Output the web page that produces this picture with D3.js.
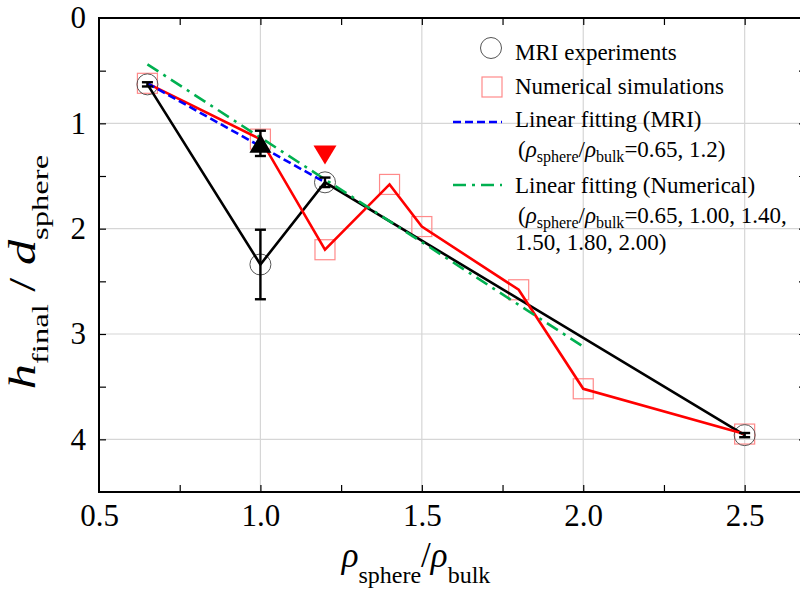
<!DOCTYPE html>
<html>
<head>
<meta charset="utf-8">
<script src="https://cdn.jsdelivr.net/npm/d3@7"></script>
<style>
  html, body { margin: 0; padding: 0; background: #fff; overflow: hidden; }
  svg { display: block; }
  text { font-family: "Liberation Serif", "Times New Roman", serif; fill: #000; }
</style>
</head>
<body>
<svg id="chart" width="800" height="593"></svg>
<script>
// ---- data ----
// MRI experiments: density ratio, final depth (in sphere diameters), error
const mriRatio  = [0.65, 1.0, 1.2, 2.5];
const mriHeight = [0.63, 2.34, 1.56, 3.96];
const mriError  = [0.02, 0.33, 0.045, 0.02];

// Numerical simulations
const simRatio  = [0.65, 1.0, 1.2, 1.4, 1.5, 1.8, 2.0, 2.5];
const simHeight = [0.62, 1.15, 2.2, 1.58, 1.98, 2.58, 3.52, 3.95];

// Linear fits (end points)
const fitMriRatio  = [0.65, 1.2];
const fitMriHeight = [0.62, 1.56];
const fitSimRatio  = [0.65, 2.0];
const fitSimHeight = [0.44, 3.12];

// Extra single markers
const upRatio    = [1.0];
const upHeight   = [1.19];
const upError    = [0.12];
const downRatio  = [1.2];
const downHeight = [1.3];

// Axis ticks
const xTicks      = [0.5, 1.0, 1.5, 2.0, 2.5];
const xMinorTicks = [0.75, 1.0, 1.25, 1.5, 1.75, 2.0, 2.25, 2.5];
const yTicks      = [0, 1, 2, 3, 4];
const yMinorTicks = [0.5, 1, 1.5, 2, 2.5, 3, 3.5, 4];

// ---- layout ----
const svg = d3.select('#chart');
const x = d3.scaleLinear().domain([0.5, 2.69]).range([99, 806]);
const y = d3.scaleLinear().domain([0, 4.5]).range([18, 492]);
const X0 = x.range()[0], X1 = x.range()[1], Y0 = y.range()[0], Y1 = y.range()[1];

const zip = (a, b) => a.map((d, i) => [d, b[i]]);
const line = d3.line().x(d => x(d[0])).y(d => y(d[1]));

// grid
const grid = svg.append('g').attr('stroke', '#d6d6d6').attr('stroke-width', 1.2);
grid.selectAll('.gx').data(xTicks.filter(d => d > 0.5)).join('line')
  .attr('x1', d => x(d)).attr('x2', d => x(d)).attr('y1', Y0).attr('y2', Y1);
grid.selectAll('.gy').data(yTicks.filter(d => d > 0)).join('line')
  .attr('x1', X0).attr('x2', X1).attr('y1', d => y(d)).attr('y2', d => y(d));

// inward tick marks on all four sides
function ticks(axis, transform) {
  svg.append('g').attr('transform', transform).call(axis)
    .call(g => g.select('.domain').remove())
    .selectAll('line').attr('stroke', '#000').attr('stroke-width', 1.2);
}
ticks(d3.axisBottom(x).tickValues(xMinorTicks).tickSize(-7).tickFormat(''), `translate(0,${Y1})`);
ticks(d3.axisTop(x).tickValues(xMinorTicks).tickSize(-7).tickFormat(''), `translate(0,${Y0})`);
ticks(d3.axisLeft(y).tickValues(yMinorTicks).tickSize(-7).tickFormat(''), `translate(${X0},0)`);
ticks(d3.axisRight(y).tickValues(yMinorTicks).tickSize(-7).tickFormat(''), `translate(${X1},0)`);

// tick labels
svg.append('g').attr('transform', `translate(0,${Y1})`)
  .call(d3.axisBottom(x).tickValues(xTicks).tickSize(0).tickPadding(12).tickFormat(d3.format('.1f')))
  .call(g => g.select('.domain').remove())
  .attr('font-size', 31).attr('font-family', '"Liberation Serif", serif');
svg.append('g').attr('transform', `translate(${X0},0)`)
  .call(d3.axisLeft(y).tickValues(yTicks).tickSize(0).tickPadding(13).tickFormat(d3.format('d')))
  .call(g => g.select('.domain').remove())
  .attr('font-size', 31).attr('font-family', '"Liberation Serif", serif');

// frame
svg.append('rect').attr('x', X0).attr('y', Y0).attr('width', X1 - X0).attr('height', Y1 - Y0)
  .attr('fill', 'none').attr('stroke', '#000').attr('stroke-width', 2);

// ---- marks ----
const simPts = zip(simRatio, simHeight);
const mriPts = zip(mriRatio, mriHeight);

// simulation squares
svg.append('g').selectAll('rect').data(simPts).join('rect')
  .attr('x', d => x(d[0]) - 10).attr('y', d => y(d[1]) - 10)
  .attr('width', 20).attr('height', 20)
  .attr('fill', 'none').attr('stroke', '#ff8a8a').attr('stroke-width', 1.2);

// experiment circles
svg.append('g').selectAll('circle').data(mriPts).join('circle')
  .attr('cx', d => x(d[0])).attr('cy', d => y(d[1])).attr('r', 10.5)
  .attr('fill', 'none').attr('stroke', '#555').attr('stroke-width', 1);

// connecting lines
svg.append('path').datum(mriPts).attr('d', line)
  .attr('fill', 'none').attr('stroke', '#000').attr('stroke-width', 2.6);
svg.append('path').datum(simPts).attr('d', line)
  .attr('fill', 'none').attr('stroke', '#ff0000').attr('stroke-width', 2.6);

// linear fits
svg.append('path').datum(zip(fitSimRatio, fitSimHeight)).attr('d', line)
  .attr('fill', 'none').attr('stroke', '#00b050').attr('stroke-width', 2.6)
  .attr('stroke-dasharray', '13 6 3 6');
svg.append('path').datum(zip(fitMriRatio, fitMriHeight)).attr('d', line)
  .attr('fill', 'none').attr('stroke', '#0000ff').attr('stroke-width', 2.6)
  .attr('stroke-dasharray', '8 4');

// error bars
function errorBars(xs, ys, es) {
  const g = svg.append('g').attr('stroke', '#000').attr('stroke-width', 2.4);
  xs.forEach((xv, i) => {
    const top = y(ys[i] - es[i]), bot = y(ys[i] + es[i]), cx = x(xv);
    g.append('line').attr('x1', cx).attr('x2', cx).attr('y1', top).attr('y2', bot);
    g.append('line').attr('x1', cx - 5.5).attr('x2', cx + 5.5).attr('y1', top).attr('y2', top);
    g.append('line').attr('x1', cx - 5.5).attr('x2', cx + 5.5).attr('y1', bot).attr('y2', bot);
  });
}
errorBars(mriRatio, mriHeight, mriError);
errorBars(upRatio, upHeight, upError);

// triangles
const tri = (cx, cy, w, h, up) => up
  ? `M${cx},${cy - h / 2}L${cx + w / 2},${cy + h / 2}L${cx - w / 2},${cy + h / 2}Z`
  : `M${cx - w / 2},${cy - h / 2}L${cx + w / 2},${cy - h / 2}L${cx},${cy + h / 2}Z`;
svg.append('g').selectAll('path').data(zip(upRatio, upHeight)).join('path')
  .attr('d', d => tri(x(d[0]), y(d[1]), 22, 19, true)).attr('fill', '#000');
svg.append('g').selectAll('path').data(zip(downRatio, downHeight)).join('path')
  .attr('d', d => tri(x(d[0]), y(d[1]), 23, 19, false)).attr('fill', '#ff0000');

// ---- rich text helper (italic symbols, subscripts) ----
function rich(textSel, parts, size, subSize, shift) {
  let cur = 0;
  parts.forEach(p => {
    const target = p.sub ? shift : 0;
    const t = textSel.append('tspan').text(p.t)
      .attr('font-size', p.sub ? subSize : size)
      .attr('dy', target - cur);
    if (p.it) t.attr('font-style', 'italic');
    cur = target;
  });
  return textSel;
}

// axis titles
rich(svg.append('text').attr('x', 416).attr('y', 567).attr('text-anchor', 'middle'),
  [{ t: 'ρ', it: true }, { t: 'sphere', sub: true }, { t: '/' }, { t: 'ρ', it: true }, { t: 'bulk', sub: true }],
  35, 24, 16);

rich(svg.append('text').attr('text-anchor', 'middle')
    .attr('transform', 'translate(35,272) rotate(-90) scale(1.36,1)'),
  [{ t: 'h', it: true }, { t: 'final', sub: true }, { t: ' / ' }, { t: 'd', it: true }, { t: 'sphere', sub: true }],
  37, 24, 13);

// ---- legend ----
const lg = svg.append('g');
lg.append('circle').attr('cx', 491).attr('cy', 48).attr('r', 10.5)
  .attr('fill', 'none').attr('stroke', '#555').attr('stroke-width', 1);
lg.append('rect').attr('x', 482).attr('y', 77).attr('width', 20).attr('height', 20)
  .attr('fill', 'none').attr('stroke', '#ff8a8a').attr('stroke-width', 1.2);
lg.append('line').attr('x1', 453).attr('x2', 502).attr('y1', 122).attr('y2', 122)
  .attr('stroke', '#0000ff').attr('stroke-width', 2.6).attr('stroke-dasharray', '8 4');
lg.append('line').attr('x1', 453).attr('x2', 502).attr('y1', 185).attr('y2', 185)
  .attr('stroke', '#00b050').attr('stroke-width', 2.6).attr('stroke-dasharray', '13 6 3 6');

const LF = 23;
lg.append('text').attr('x', 515).attr('y', 60).attr('font-size', LF).text('MRI experiments');
lg.append('text').attr('x', 515).attr('y', 94).attr('font-size', LF).text('Numerical simulations');
lg.append('text').attr('x', 515).attr('y', 127).attr('font-size', LF).text('Linear fitting (MRI)');
rich(lg.append('text').attr('x', 518).attr('y', 157),
  [{ t: '(' }, { t: 'ρ', it: true }, { t: 'sphere', sub: true }, { t: '/' }, { t: 'ρ', it: true },
   { t: 'bulk', sub: true }, { t: '=0.65, 1.2)' }], LF, 16, 5);
lg.append('text').attr('x', 515).attr('y', 193).attr('font-size', LF).text('Linear fitting (Numerical)');
rich(lg.append('text').attr('x', 518).attr('y', 223),
  [{ t: '(' }, { t: 'ρ', it: true }, { t: 'sphere', sub: true }, { t: '/' }, { t: 'ρ', it: true },
   { t: 'bulk', sub: true }, { t: '=0.65, 1.00, 1.40,' }], LF, 16, 5);
lg.append('text').attr('x', 515).attr('y', 250).attr('font-size', LF).text('1.50, 1.80, 2.00)');
</script>
</body>
</html>
